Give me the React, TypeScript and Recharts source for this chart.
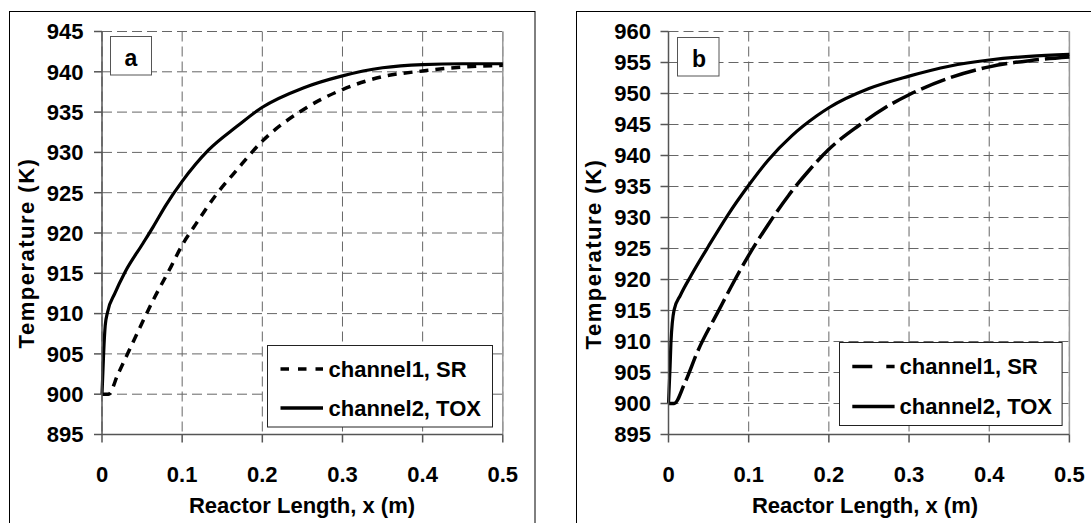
import { LineChart, Line, XAxis, YAxis, CartesianGrid, ReferenceLine, Legend, Label } from 'recharts';

const FONT = 'Liberation Sans, Arial, Helvetica, sans-serif';

const seriesNames = ['channel1, SR', 'channel2, TOX'];
const xTicks = [0, 0.1, 0.2, 0.3, 0.4, 0.5];
const aTicks = [895, 900, 905, 910, 915, 920, 925, 930, 935, 940, 945];
const bTicks = [895, 900, 905, 910, 915, 920, 925, 930, 935, 940, 945, 950, 955, 960];

// panel a
const aSrX = [0, 0.008, 0.02, 0.038, 0.064, 0.086, 0.1, 0.115, 0.142, 0.168, 0.2, 0.251, 0.3, 0.35, 0.4, 0.45, 0.5];
const aSrT = [900, 900, 902.5, 906.3, 911.7, 915.8, 918.5, 920.8, 924.7, 927.8, 931.4, 935.3, 937.8, 939.4, 940.1, 940.6, 940.8];
const aToxX = [0, 0.002, 0.004, 0.007, 0.016, 0.029, 0.051, 0.064, 0.08, 0.1, 0.133, 0.168, 0.2, 0.251, 0.3, 0.35, 0.4, 0.45, 0.5];
const aToxT = [900, 905, 908.5, 910.2, 912.5, 915.2, 918.7, 920.8, 923.5, 926.4, 930.3, 933.2, 935.6, 938.0, 939.5, 940.5, 940.9, 941.0, 941.0];

// panel b
const bSrX = [0, 0.007, 0.02, 0.037, 0.063, 0.083, 0.1, 0.124, 0.15, 0.176, 0.2, 0.237, 0.27, 0.3, 0.35, 0.4, 0.45, 0.5];
const bSrT = [900, 900, 903.2, 908.6, 915.1, 920.0, 923.9, 928.8, 933.6, 937.7, 941.0, 944.8, 947.7, 949.8, 952.5, 954.3, 955.3, 955.9];
const bToxX = [0, 0.002, 0.003, 0.007, 0.015, 0.028, 0.05, 0.074, 0.1, 0.124, 0.154, 0.185, 0.2, 0.25, 0.3, 0.35, 0.4, 0.45, 0.5];
const bToxT = [900, 906, 909.7, 915.1, 917.5, 920.6, 925.4, 930.4, 935.2, 939.2, 943.2, 946.4, 947.7, 950.8, 952.8, 954.4, 955.4, 956.0, 956.3];

const zip = (xs: number[], ts: number[]) => xs.map((x, i) => ({ x, t: ts[i] }));

const tickStyle = { fontSize: 22, fontWeight: 700, fill: '#000', fontFamily: FONT };

function makeLegend(dash: string, w: number, h: number, sample: [number, number], textX: number, rows: [number, number]) {
  return ({ payload }: any) => (
    <svg width={w} height={h} style={{ display: 'block' }}>
      <rect x={0.5} y={0.5} width={w - 1} height={h - 1} fill="#fff" stroke="#222" />
      {(payload || []).map((p: any, i: number) => (
        <g key={p.value}>
          <line
            x1={sample[0]}
            x2={sample[1]}
            y1={rows[i]}
            y2={rows[i]}
            stroke="#000"
            strokeWidth={3.5}
            strokeDasharray={i === 0 ? dash : undefined}
          />
          <text x={textX} y={rows[i] + 8} fontSize={22} fontWeight={700} fontFamily={FONT} fill="#000">
            {p.value}
          </text>
        </g>
      ))}
    </svg>
  );
}

interface PanelProps {
  left: number;
  width: number;
  yWidth: number;
  right: number;
  domain: [number, number];
  ticks: number[];
  sr: { x: number; t: number }[];
  tox: { x: number; t: number }[];
  srDash: string;
  legendDash: string;
  legendBox: { x: number; y: number; w: number; h: number; sample: [number, number]; textX: number; rows: [number, number] };
  yTitle: { x: number; y: number };
  xTitle: { x: number; y: number };
  tickMargin: number;
}

function Panel(p: PanelProps) {
  return (
    <div style={{ position: 'absolute', left: p.left, top: 0 }}>
      <LineChart width={p.width} height={523} margin={{ top: 31.5, right: p.right, left: 0, bottom: 0 }}>
        <CartesianGrid stroke="#666" strokeDasharray="10 5" />
        <XAxis
          type="number"
          dataKey="x"
          domain={[0, 0.5]}
          ticks={xTicks}
          interval={0}
          tickFormatter={(v) => String(v)}
          height={88.5}
          tick={tickStyle}
          tickSize={8}
          tickMargin={23.5}
          axisLine={{ stroke: '#555', strokeWidth: 1.5 }}
          tickLine={{ stroke: '#555', strokeWidth: 1.5 }}
        >
          <Label
            content={() => (
              <text x={p.xTitle.x} y={p.xTitle.y} textAnchor="middle" fontSize={22} fontWeight={700} fontFamily={FONT} fill="#000">
                Reactor Length, x (m)
              </text>
            )}
          />
        </XAxis>
        <YAxis
          type="number"
          domain={p.domain}
          ticks={p.ticks}
          interval={0}
          width={p.yWidth}
          tick={tickStyle}
          tickSize={8}
          tickMargin={p.tickMargin}
          allowDataOverflow
          axisLine={{ stroke: '#555', strokeWidth: 1.5 }}
          tickLine={{ stroke: '#555', strokeWidth: 1.5 }}
        >
          <Label
            content={() => (
              <text
                x={p.yTitle.x}
                y={p.yTitle.y}
                transform={`rotate(-90 ${p.yTitle.x} ${p.yTitle.y})`}
                textAnchor="middle"
                fontSize={22}
                fontWeight={700}
                fontFamily={FONT}
                fill="#000"
                letterSpacing={1.5}
              >
                Temperature (K)
              </text>
            )}
          />
        </YAxis>
        <ReferenceLine x={0.5} stroke="#999" strokeWidth={1.5} />
        <Legend
          layout="vertical"
          align="center"
          verticalAlign="middle"
          wrapperStyle={{ position: 'absolute', left: p.legendBox.x, top: p.legendBox.y, width: p.legendBox.w, height: p.legendBox.h }}
          content={makeLegend(p.legendDash, p.legendBox.w, p.legendBox.h, p.legendBox.sample, p.legendBox.textX, p.legendBox.rows)}
        />
        <Line
          data={p.sr}
          dataKey="t"
          name={seriesNames[0]}
          type="monotone"
          stroke="#000"
          strokeWidth={3.5}
          strokeDasharray={p.srDash}
          dot={false}
          isAnimationActive={false}
        />
        <Line
          data={p.tox}
          dataKey="t"
          name={seriesNames[1]}
          type="monotone"
          stroke="#000"
          strokeWidth={3.2}
          dot={false}
          isAnimationActive={false}
        />
      </LineChart>
    </div>
  );
}

export default function App() {
  return (
    <div style={{ position: 'absolute', left: 0, top: 0, width: 1091, height: 523, overflow: 'hidden', background: '#fff' }}>
      <Panel
        left={0}
        width={545}
        yWidth={102}
        right={42.2}
        domain={[895, 945]}
        ticks={aTicks}
        sr={zip(aSrX, aSrT)}
        tox={zip(aToxX, aToxT)}
        srDash="9 7"
        legendDash="8.5 9"
        legendBox={{ x: 266.5, y: 345, w: 226, h: 82.5, sample: [13.5, 56], textX: 61.5, rows: [24, 63] }}
        yTitle={{ x: 33.5, y: 253 }}
        xTitle={{ x: 302, y: 513 }}
        tickMargin={10.5}
      />
      <Panel
        left={545}
        width={546}
        yWidth={123.5}
        right={21.6}
        domain={[895, 960]}
        ticks={bTicks}
        sr={zip(bSrX, bSrT)}
        tox={zip(bToxX, bToxT)}
        srDash="26 6"
        legendDash="20 14"
        legendBox={{ x: 294.4, y: 342.3, w: 223.6, h: 84, sample: [13.3, 55.6], textX: 60.6, rows: [24.4, 64.4] }}
        yTitle={{ x: 56, y: 254 }}
        xTitle={{ x: 320, y: 513 }}
        tickMargin={9.5}
      />
      <svg width={1091} height={523} style={{ position: 'absolute', left: 0, top: 0, pointerEvents: 'none' }}>
        <rect x={9.5} y={11.5} width={525.5} height={530} fill="none" stroke="#000" />
        <rect x={576.5} y={11.5} width={530} height={530} fill="none" stroke="#000" />
        <rect x={110.5} y={36.5} width={41} height={38.5} fill="#fff" stroke="#555" />
        <text x={131} y={66} textAnchor="middle" fontSize={23} fontWeight={700} fontFamily={FONT}>a</text>
        <rect x={677.5} y={37.5} width={41.5} height={38.5} fill="#fff" stroke="#555" />
        <text x={699} y={66.5} textAnchor="middle" fontSize={23} fontWeight={700} fontFamily={FONT}>b</text>
      </svg>
    </div>
  );
}
